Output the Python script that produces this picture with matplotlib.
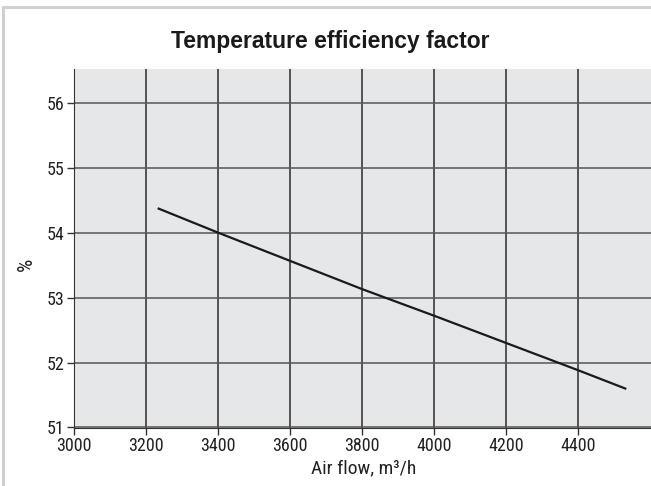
import matplotlib
matplotlib.use('Agg')
import matplotlib.pyplot as plt
from matplotlib.patches import Rectangle

# data
air_flow = [3235, 3400, 3800, 4000, 4400, 4530]
efficiency = [54.37, 54.0, 53.13, 52.72, 51.88, 51.6]
x_ticks = [3000, 3200, 3400, 3600, 3800, 4000, 4200, 4400]
y_ticks = [51, 52, 53, 54, 55, 56]

narrow = ['Roboto Condensed', 'DejaVu Sans']

fig = plt.figure(figsize=(6.51, 4.86), dpi=100)
fig.patches.append(Rectangle((3 / 651, -0.1), 1.2, (486 - 7) / 486 + 0.1,
                             transform=fig.transFigure, fill=False,
                             edgecolor='#d0d0d0', linewidth=2.2))

ax = fig.add_axes([74 / 651, 1 - 427.5 / 486, 1 - 74 / 651 + 0.002, (427.5 - 69) / 486])
ax.set_facecolor('#e6e7e9')
ax.plot(air_flow, efficiency, color='#1a1a1a', linewidth=1.6, zorder=3)

ax.set_xlim(3000, 4605)
ax.set_ylim(51, 56.52)
ax.set_xticks(x_ticks)
ax.set_yticks(y_ticks)
ax.grid(axis='x', color='#2a2a2a', linewidth=1.1)
ax.grid(axis='y', color='#555555', linewidth=1.1)
ax.set_axisbelow(True)

for s in ['top', 'right']:
    ax.spines[s].set_visible(False)
ax.spines['left'].set_color('#333333')
ax.spines['bottom'].set_color('#333333')
ax.tick_params(length=5, width=1, color='#333333', pad=2, labelsize=13)
for lab in ax.get_xticklabels() + ax.get_yticklabels():
    lab.set_family(narrow)
    lab.set_color('#222222')

ax.set_xlabel('Air flow, m³/h', family=narrow, fontsize=14, color='#222222', labelpad=3)
ax.set_ylabel('%', family=narrow, fontsize=15, color='#222222')
ax.yaxis.set_label_coords(-0.066, 0.455)

fig.text(0.507, 1 - 48 / 486, 'Temperature efficiency factor', ha='center', va='baseline',
         family=['Liberation Sans', 'DejaVu Sans'], fontweight='bold', fontsize=16.5,
         color='#1a1a1a')

fig.savefig('out.png', dpi=100)
